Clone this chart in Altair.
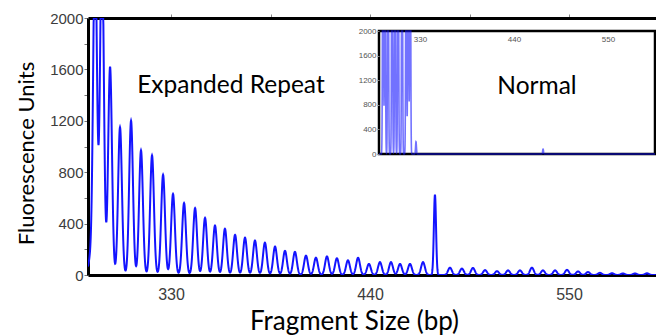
import altair as alt
import numpy as np
import pandas as pd

# ---- Expanded-repeat sample: peak sizes (bp) and heights (RFU) ----
repeat_bp = [285.2, 288.0, 291.8, 296.3, 301.8, 307.9, 313.4, 319.5, 325.6, 331.1,
             337.2, 343.3, 348.8, 354.3, 359.8, 365.4, 370.9, 376.4, 381.9, 387.5,
             393.0, 398.5, 404.6, 410.1, 416.2, 421.7, 427.8, 433.4, 439.4, 445.5,
             451.6, 456.6, 462.1, 469.3, 484.2, 490.8, 496.9, 503.6, 510.2, 516.3,
             522.9, 529.5, 535.6, 542.3, 548.9, 555.0, 560.5, 567.1, 573.8, 579.8,
             586.5, 593.1]
repeat_rfu = [110, 2600, 2600, 1620, 1150, 1200, 970, 930, 780, 630,
              560, 520, 445, 385, 360, 312, 290, 268, 252, 221,
              188, 180, 151, 135, 145, 130, 115, 134, 86, 100,
              100, 86, 86, 100, 57, 50, 55, 38, 30, 36,
              36, 57, 36, 36, 40, 28, 23, 17, 14, 12,
              12, 13]
allele_bp = [475.9]
allele_rfu = [625]

# ---- Normal sample (inset) ----
normal_bp = [286.7, 289.0, 292.6, 297.3, 300.8, 304.4, 309.0, 313.8, 316.2, 318.5, 325.3, 474.0]
normal_rfu = [6000, 5000, 6000, 6000, 5000, 6000, 6000, 5000, 6000, 6000, 200, 80]

# ---- Axis ticks and labels ----
main_x_ticks = [330, 440, 550]
main_top_ticks = [330, 385, 440, 495, 550]
main_y_ticks = list(range(0, 2001, 200))
inset_x_ticks = [330, 440, 550]
inset_y_ticks = [0, 400, 800, 1200, 1600, 2000]

main_domain = [284.1, 598.1]
inset_domain = [282.0, 605.0]

labels_main = pd.DataFrame({"bp": [363.1], "rfu": [1415], "text": ["Expanded Repeat"]})
labels_inset = pd.DataFrame({"bp": [466.9], "rfu": [975], "text": ["Normal"]})


def trace(grid, centers, heights, sigma):
    y = np.zeros_like(grid)
    for c, h in zip(centers, heights):
        y += h * np.exp(-0.5 * ((grid - c) / sigma) ** 2)
    return y


grid_main = np.arange(main_domain[0], main_domain[1], 0.1)
rfu_main = trace(grid_main, repeat_bp, repeat_rfu, 1.05) + trace(grid_main, allele_bp, allele_rfu, 0.6)
main_df = pd.DataFrame({"bp": grid_main, "rfu": rfu_main})

grid_inset = np.arange(inset_domain[0], inset_domain[1], 0.08)
inset_df = pd.DataFrame({"bp": grid_inset, "rfu": trace(grid_inset, normal_bp, normal_rfu, 0.5)})

W, H = 568, 257
TICK_FONT = "Liberation Sans"
TEXT_FONT = "Lato"
BLUE = "#1414ff"

x_main = alt.Scale(domain=main_domain, nice=False, zero=False)
y_main = alt.Scale(domain=[0, 2000], nice=False, clamp=True)

main_trace = alt.Chart(main_df).mark_line(color=BLUE, strokeWidth=2, clip=True).encode(
    x=alt.X("bp:Q", scale=x_main, axis=alt.Axis(
        values=main_x_ticks, format="d", ticks=False, grid=False, domainColor="black", domainWidth=3,
        labelFont=TICK_FONT, labelFontSize=16, labelColor="#3c3c3c", labelPadding=11,
        labelBaseline="top", labelFlush=False,
        title="Fragment Size (bp)", titleFont=TEXT_FONT, titleFontSize=26, titleFontWeight="normal",
        titleColor="black", titleX=266, titleY=54, titleBaseline="alphabetic", titleAlign="center",
        titleAnchor="start")),
    y=alt.Y("rfu:Q", scale=y_main, axis=alt.Axis(
        values=main_y_ticks, format="d", labelExpr="datum.value % 400 == 0 ? datum.label : ''",
        tickSize=4, tickColor="#777777", grid=False, domainColor="black", domainWidth=3,
        labelFont=TICK_FONT, labelFontSize=15, labelColor="#3c3c3c", labelPadding=1,
        labelFlush=False,
        title="Fluorescence Units", titleFont=TEXT_FONT, titleFontSize=22, titleFontWeight="normal",
        titleColor="black", titleX=-55, titleY=135, titleAngle=-90, titleBaseline="alphabetic",
        titleAlign="center", titleAnchor="start")),
)

# Annotation plus the tick marks along the top frame
main_text = alt.Chart(labels_main).mark_text(
    font=TEXT_FONT, fontSize=24.5, color="black", align="center", baseline="alphabetic"
).encode(
    x=alt.X("bp:Q", scale=alt.Scale(domain=main_domain, nice=False, zero=False), axis=alt.Axis(
        orient="top", values=main_top_ticks, labels=False, tickSize=4, tickColor="#888888",
        grid=False, domainColor="black", domainWidth=3, title=None)),
    y=alt.Y("rfu:Q", scale=alt.Scale(domain=[0, 2000], nice=False), axis=None),
    text="text:N",
)

# ---- Inset panel ----
inset_x = alt.Scale(domain=inset_domain, nice=False, zero=False, range=[291, 567])
inset_y = alt.Scale(domain=[0, 2000], nice=False, clamp=True, range=[136, 13])

box = alt.Chart(pd.DataFrame({"x0": [inset_domain[0]], "x1": [inset_domain[1]],
                              "y0": [0], "y1": [2000]})).mark_rect(
    fill="white", stroke="black", strokeWidth=2.5
).encode(
    x=alt.X("x0:Q", scale=inset_x, axis=alt.Axis(
        orient="top", values=inset_x_ticks, format="d", ticks=False, tickSize=0, domain=False,
        grid=False, labelFont=TICK_FONT, labelFontSize=8, labelColor="#555555", labelPadding=-4,
        labelBaseline="top", labelFlush=False, offset=-13, zindex=2, title=None)),
    x2="x1:Q",
    y=alt.Y("y0:Q", scale=inset_y, axis=alt.Axis(
        orient="left", values=inset_y_ticks, format="d", tickSize=2, tickColor="#888888",
        domain=False, grid=False, labelFont=TICK_FONT, labelFontSize=8, labelColor="#555555",
        labelPadding=1, labelFlush=False, offset=-291, zindex=2, title=None)),
    y2="y1:Q",
)

inset_trace = alt.Chart(inset_df).mark_line(
    color=BLUE, strokeWidth=1.6, opacity=0.6
).encode(
    x=alt.X("bp:Q", scale=inset_x),
    y=alt.Y("rfu:Q", scale=inset_y),
)

inset_text = alt.Chart(labels_inset).mark_text(
    font=TEXT_FONT, fontSize=24.5, color="black", align="center", baseline="alphabetic"
).encode(
    x=alt.X("bp:Q", scale=inset_x),
    y=alt.Y("rfu:Q", scale=inset_y),
    text="text:N",
)

inset = alt.layer(box, inset_trace, inset_text)

chart = alt.layer(main_trace, main_text, inset).resolve_scale(
    x="independent", y="independent"
).properties(
    width=W, height=H,
    autosize=alt.AutoSizeParams(type="none"),
    padding={"left": 88, "top": 18, "right": 0, "bottom": 60},
    background="white",
).configure_view(stroke=None)

chart.save("out.html", embed_options={"renderer": "svg", "actions": False})
